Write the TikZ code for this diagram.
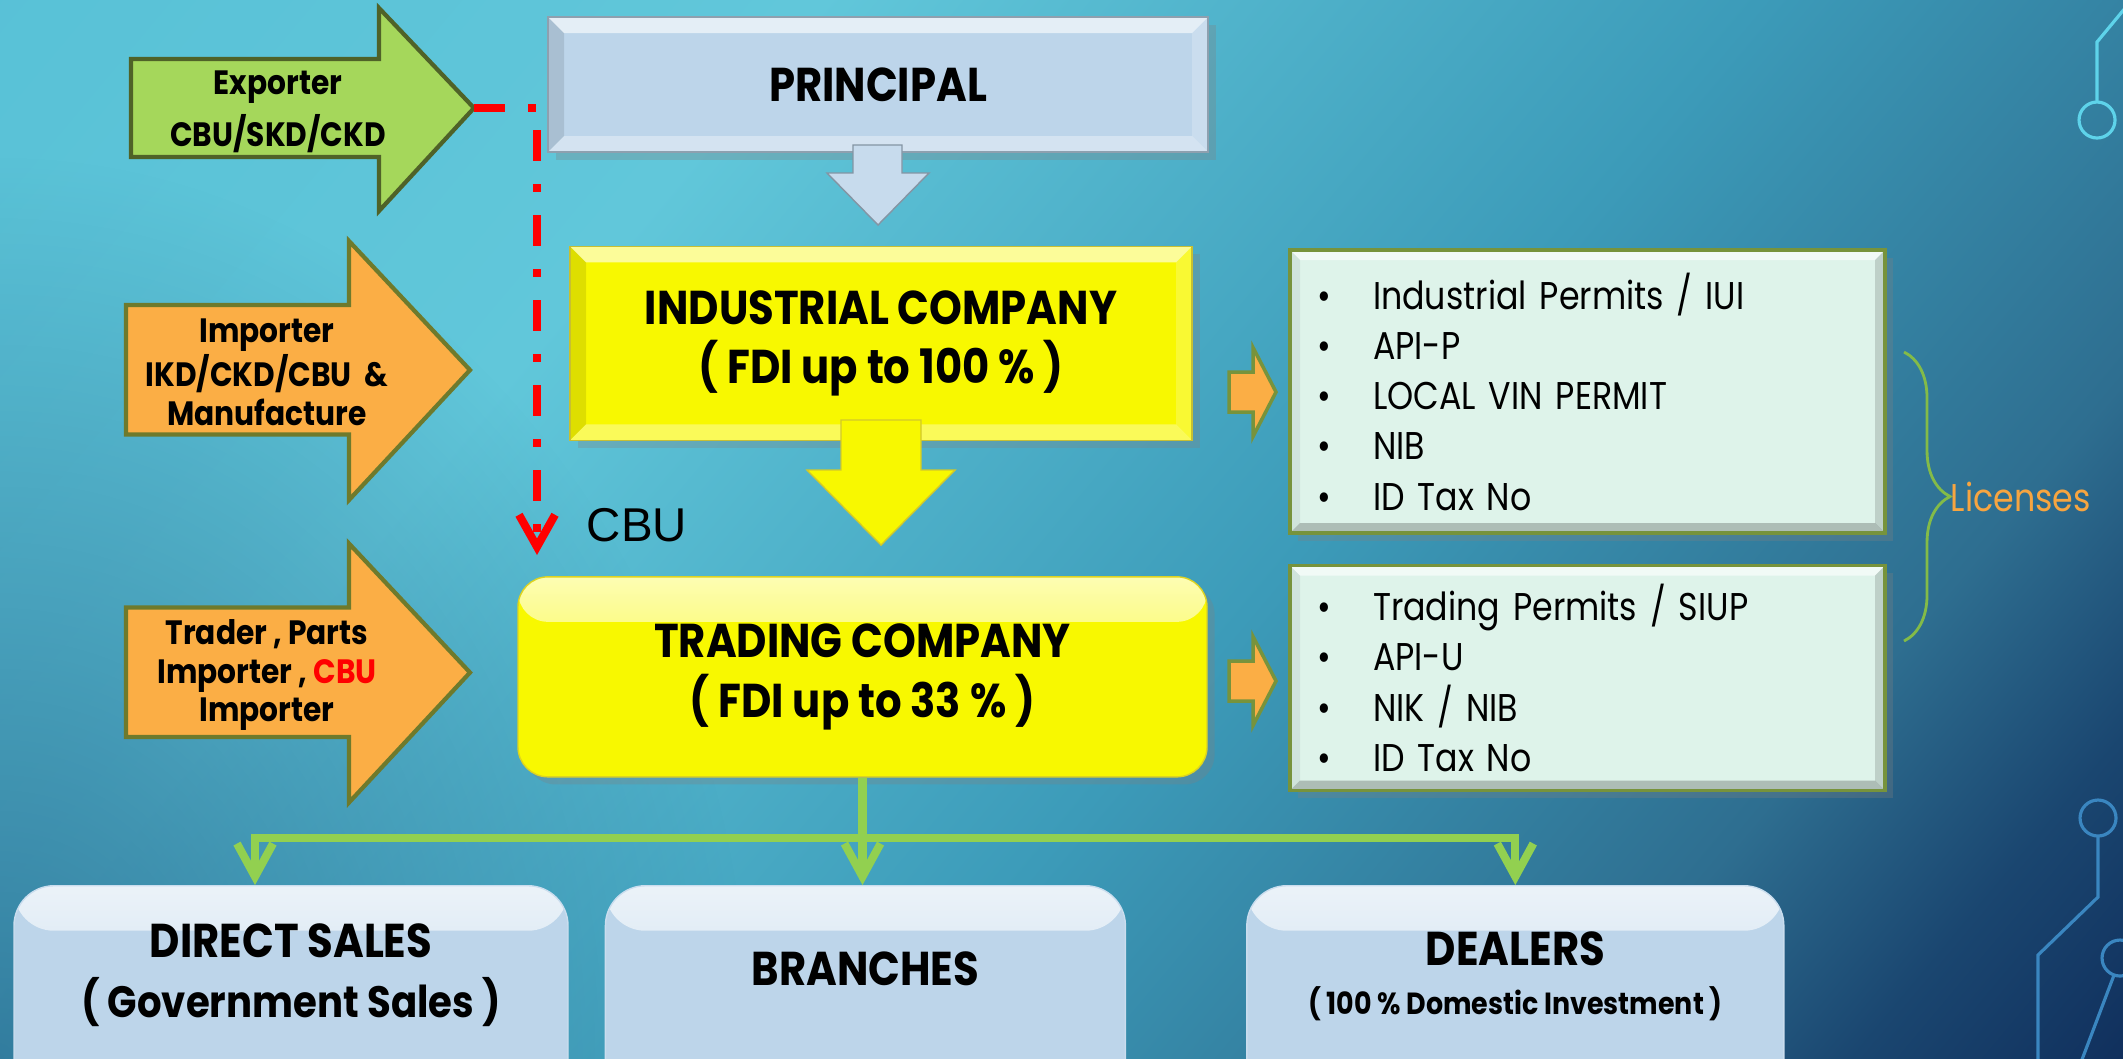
\documentclass[tikz,border=0pt]{standalone}
\usepackage{fontspec}
\newfontfamily\headfont{Poppins}[FakeStretch=0.88]
\newfontfamily\listfont{Poppins}[FakeStretch=0.86]
\newfontfamily\cbufont{Liberation Sans}
\usepackage{tikz}
\usetikzlibrary{positioning, arrows.meta, decorations.pathreplacing, shadows, fadings}

\definecolor{bgnavy}{HTML}{0A1C4A}
\definecolor{bgdeep}{HTML}{0E2A58}
\definecolor{bgdark}{HTML}{1A4670}
\definecolor{bgsteel}{HTML}{2E6E90}
\definecolor{bgteal}{HTML}{3C9BB9}
\definecolor{bglight}{HTML}{61C7DA}
\definecolor{bgcyan}{HTML}{52BDD4}
\definecolor{bgshadow}{HTML}{1F5E86}
\definecolor{pblue}{HTML}{BDD5EA}
\definecolor{ayellow}{HTML}{F8F800}
\definecolor{mint}{HTML}{DEF3EA}
\definecolor{olive}{HTML}{77933C}
\definecolor{leaf}{HTML}{A5D75B}
\definecolor{leafdark}{HTML}{4F6228}
\definecolor{amber}{HTML}{FBAE45}
\definecolor{amberline}{HTML}{6E7A2C}
\definecolor{feedgreen}{HTML}{92D050}
\definecolor{licorange}{HTML}{F7A540}
\definecolor{circuitlight}{HTML}{5ED3EA}
\definecolor{circuitdark}{HTML}{3A86C0}

\pgfdeclareverticalshading{slidebg}{100bp}{color(0bp)=(bgnavy); color(13bp)=(bgdeep); color(21bp)=(bgdark); color(28bp)=(bgsteel); color(44bp)=(bgteal); color(66bp)=(bglight); color(100bp)=(bgcyan)}
\tikzfading[name=cornerfade, inner color=transparent!30, outer color=transparent!100]

\tikzset{
  bevel/.style={path picture={
    \coordinate (bnw) at (path picture bounding box.north west);
    \coordinate (bne) at (path picture bounding box.north east);
    \coordinate (bsw) at (path picture bounding box.south west);
    \coordinate (bse) at (path picture bounding box.south east);
    \fill[white, opacity=.6] (bnw) -- (bne) -- ([shift={(-#1,-#1)}]bne) -- ([shift={(#1,-#1)}]bnw) -- cycle;
    \fill[black, opacity=.06] (bnw) -- ([shift={(#1,-#1)}]bnw) -- ([shift={(#1,#1)}]bsw) -- (bsw) -- cycle;
    \fill[black, opacity=.14] (bne) -- ([shift={(-#1,-#1)}]bne) -- ([shift={(-#1,#1)}]bse) -- (bse) -- cycle;
    \fill[black, opacity=.22] (bsw) -- ([shift={(#1,#1)}]bsw) -- ([shift={(-#1,#1)}]bse) -- (bse) -- cycle;
  }},
  bevel/.default=0.16,
  lightbevel/.style={path picture={
    \coordinate (bnw) at (path picture bounding box.north west);
    \coordinate (bne) at (path picture bounding box.north east);
    \coordinate (bsw) at (path picture bounding box.south west);
    \coordinate (bse) at (path picture bounding box.south east);
    \fill[white, opacity=.6] (bnw) -- (bne) -- ([shift={(-#1,-#1)}]bne) -- ([shift={(#1,-#1)}]bnw) -- cycle;
    \fill[black, opacity=.1] (bnw) -- ([shift={(#1,-#1)}]bnw) -- ([shift={(#1,#1)}]bsw) -- (bsw) -- cycle;
    \fill[white, opacity=.2] (bne) -- ([shift={(-#1,-#1)}]bne) -- ([shift={(-#1,#1)}]bse) -- (bse) -- cycle;
    \fill[white, opacity=.35] (bsw) -- ([shift={(#1,#1)}]bsw) -- ([shift={(-#1,#1)}]bse) -- (bse) -- cycle;
  }},
  lightbevel/.default=0.16,
  gloss/.style={path picture={
    \shade[top color=#1!30!white, bottom color=#1] (path picture bounding box.north west) rectangle ([yshift=-0.45cm]path picture bounding box.north east);
  }}
}

\tikzstyle{titletext} = [font=\headfont\bfseries\fontsize{13.5}{17}\selectfont, align=center, text=black]
\tikzstyle{arrowtext} = [font=\headfont\bfseries\fontsize{9.6}{11}\selectfont, align=center, text=black]
\tikzstyle{bigarrow} = [line width=1.2pt, line join=miter]
\tikzstyle{pbox} = [rectangle, minimum width=6.6cm, minimum height=1.35cm, fill=pblue, draw=pblue!75!black, line width=0.4pt, lightbevel, titletext, drop shadow={opacity=.3}]
\tikzstyle{ibox} = [rectangle, minimum width=6.22cm, minimum height=1.94cm, fill=ayellow, draw=yellow!75!black, line width=0.4pt, lightbevel, titletext, drop shadow={opacity=.3}]
\tikzstyle{tbox} = [rectangle, rounded corners=0.3cm, minimum width=6.89cm, minimum height=2.0cm, fill=ayellow, draw=yellow!85!black, line width=0.4pt, gloss=ayellow, titletext, drop shadow={opacity=.3}]
\tikzstyle{licbox} = [rectangle, minimum width=5.95cm, text width=5.41cm, inner xsep=0.27cm, fill=mint, draw=olive, line width=1pt, bevel=0.1, align=left, font=\listfont\fontsize{11}{14.3}\selectfont, drop shadow={opacity=.3}]
\tikzstyle{lbox} = [rectangle, rounded corners=0.4cm, minimum height=2.4cm, fill=pblue, draw=pblue!80!white, line width=0.4pt, gloss=pblue, titletext, anchor=north]
\tikzstyle{feedline} = [draw=feedgreen, line width=2.3pt]
\tikzstyle{feed} = [feedline, -{Straight Barb[length=3.3mm, width=3.6mm]}]
\tikzstyle{cbuline} = [draw=red, line width=2.3pt, dash pattern=on 3.1mm off 2.3mm on 0.8mm off 2.3mm, -{Straight Barb[length=3.2mm, width=3.6mm]}]
\tikzstyle{miniarrow} = [fill=amber, draw=olive, line width=1pt, line join=miter]
\tikzstyle{circuit} = [line width=0.9pt]

\begin{document}
\begin{tikzpicture}
\useasboundingbox (0,0) rectangle (21.23,-10.58);
\clip (0,0) rectangle (21.23,-10.58);

% slide background
\shade[shading=slidebg, shading angle=50] (0,0) rectangle (21.23,-10.58);
\fill[bgshadow, path fading=cornerfade, fit fading=true] (0,-10.58) ellipse (7.5cm and 9cm);

% circuit lines
\draw[circuit, circuitlight] (21.40,0.10) -- (20.97,-0.42) -- (20.97,-1.02);
\draw[circuit, circuitlight] (20.97,-1.20) circle (0.18);
\draw[circuit, circuitdark] (20.98,-8.36) -- (20.98,-8.97) -- (20.38,-9.55) -- (20.38,-10.70);
\draw[circuit, circuitdark] (20.98,-8.18) circle (0.18);
\draw[circuit, circuitdark] (21.20,-9.58) circle (0.18);
\draw[circuit, circuitdark] (21.14,-9.75) -- (20.78,-10.70);

% source arrows
\filldraw[bigarrow, fill=leaf, draw=leafdark] (1.31,-0.59) -- (3.79,-0.59) -- (3.79,-0.08) -- (4.74,-1.08) -- (3.79,-2.11) -- (3.79,-1.57) -- (1.31,-1.57) -- cycle;
\foreach \yc in {-3.70,-6.725}
  \filldraw[bigarrow, fill=amber, draw=amberline, shift={(0,\yc)}] (1.26,0.65) -- (3.49,0.65) -- (3.49,1.29) -- (4.70,0) -- (3.49,-1.30) -- (3.49,-0.645) -- (1.26,-0.645) -- cycle;

\node (exporter) [arrowtext] at (2.78,-1.12) {Exporter\\[2pt]CBU/SKD/CKD};
\node (importer) [arrowtext] at (2.67,-3.72) {Importer\\IKD/CKD/CBU\ \ \&\\Manufacture};
\node (trader) [arrowtext] at (2.67,-6.75) {Trader , Parts\\Importer , \textcolor{red}{CBU}\\Importer};

% companies
\node (principal) [pbox] at (8.78,-0.845) {PRINCIPAL};
\filldraw[fill=pblue!85!white, draw=pblue!70!black, line width=0.4pt] (8.53,-1.45) -- (9.02,-1.45) -- (9.02,-1.73) -- (9.29,-1.73) -- (8.78,-2.25) -- (8.27,-1.73) -- (8.53,-1.73) -- cycle;

\node (industrial) [ibox, below=0.93cm of principal, xshift=0.03cm] {INDUSTRIAL COMPANY\\( FDI up to 100 \% )};
\filldraw[fill=ayellow, draw=yellow!80!black, line width=0.4pt] (8.41,-4.20) -- (9.21,-4.20) -- (9.21,-4.70) -- (9.55,-4.70) -- (8.81,-5.45) -- (8.07,-4.70) -- (8.41,-4.70) -- cycle;

\node (trading) [tbox, below=1.35cm of industrial, xshift=-0.185cm] {TRADING COMPANY\\( FDI up to 33 \% )};

% CBU route
\node (cbulbl) [font=\cbufont\fontsize{13.5}{16}\selectfont] at (6.37,-5.25) {CBU};
\coordinate (exptip) at (4.74,-1.08);
\coordinate (cbuend) at (5.37,-5.55);
\draw[cbuline] (exptip) -| (cbuend);

% licenses
\node (lic1) [licbox, minimum height=2.83cm] at (15.875,-3.915) {\makebox[0.56cm][l]{\textbullet}Industrial Permits / IUI\\\makebox[0.56cm][l]{\textbullet}API-P\\\makebox[0.56cm][l]{\textbullet}LOCAL VIN PERMIT\\\makebox[0.56cm][l]{\textbullet}NIB\\\makebox[0.56cm][l]{\textbullet}ID Tax No};
\node (lic2) [licbox, minimum height=2.25cm, below=0.29cm of lic1] {\makebox[0.56cm][l]{\textbullet}Trading Permits / SIUP\\\makebox[0.56cm][l]{\textbullet}API-U\\\makebox[0.56cm][l]{\textbullet}NIK / NIB\\\makebox[0.56cm][l]{\textbullet}ID Tax No};

\foreach \yc in {-3.92,-6.81}
  \filldraw[miniarrow, shift={(0,\yc)}] (12.29,0.20) -- (12.53,0.20) -- (12.53,0.445) -- (12.76,0) -- (12.53,-0.445) -- (12.53,-0.20) -- (12.29,-0.20) -- cycle;

\draw[feedgreen!90!black, line width=0.8pt, decorate, decoration={brace, amplitude=4.6mm}] (19.04,-3.52) -- (19.04,-6.41);
\node (licenses) [anchor=west, inner sep=0pt, font=\listfont\fontsize{11}{13}\selectfont, text=licorange] at (19.50,-4.965) {Licenses};

% sales channels
\node (direct) [lbox, minimum width=5.54cm] at (2.91,-8.85) {DIRECT SALES\\{\fontsize{12.5}{15}\selectfont ( Government Sales )}\rule[-7mm]{0pt}{7mm}};
\node (branches) [lbox, minimum width=5.20cm, right=0.36cm of direct] {BRANCHES\rule[-7.5mm]{0pt}{7.5mm}};
\node (dealers) [lbox, minimum width=5.37cm, right=1.20cm of branches] {DEALERS\\[-3pt]{\fontsize{8.7}{10}\selectfont ( 100 \% Domestic Investment )}\rule[-6.5mm]{0pt}{6.5mm}};

\coordinate (split) at ([yshift=-0.6cm]trading.south);
\draw[feedline] (trading.south) -- (split);
\draw[feed] (split) -| ([xshift=-0.36cm]direct.north);
\draw[feed] (split) -- (split |- branches.north);
\draw[feed] (split) -| (dealers.north);

\end{tikzpicture}
\end{document}
